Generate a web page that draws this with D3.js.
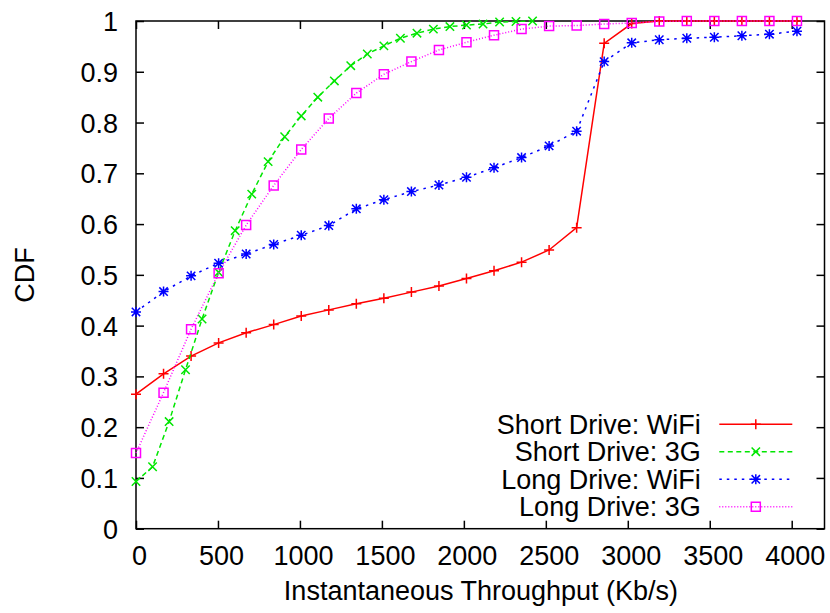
<!DOCTYPE html>
<html>
<head>
<meta charset="utf-8">
<script src="https://cdn.jsdelivr.net/npm/d3@7/dist/d3.min.js"></script>
<style>
  html, body { margin: 0; padding: 0; background: #fff; }
  svg { display: block; }
  text { font-family: "Liberation Sans", Arial, Helvetica, sans-serif; fill: #000; }
</style>
</head>
<body>
<svg id="chart" width="830" height="613"></svg>
<script>
// ---- data ----
const seriesNames = ["Short Drive: WiFi", "Short Drive: 3G", "Long Drive: WiFi", "Long Drive: 3G"];

const shortWifiX = [0,168,336,504,672,840,1008,1176,1344,1512,1680,1848,2016,2184,2352,2520,2688,2856,3024,3192,3360,3528,3696,3864,4032];
const shortWifiY = [0.265,0.305,0.340,0.366,0.386,0.402,0.419,0.431,0.443,0.454,0.466,0.478,0.493,0.508,0.525,0.549,0.593,0.956,0.995,1,1,1,1,1,1];

const short3GX = [0,101,202,302,403,504,605,706,806,907,1008,1109,1210,1310,1411,1512,1613,1714,1814,1915,2016,2117,2218,2318,2419];
const short3GY = [0.093,0.122,0.211,0.313,0.413,0.505,0.587,0.659,0.723,0.772,0.813,0.850,0.882,0.912,0.935,0.951,0.966,0.976,0.984,0.989,0.992,0.994,0.998,0.999,1.0];

const longWifiX = [0,168,336,504,672,840,1008,1176,1344,1512,1680,1848,2016,2184,2352,2520,2688,2856,3024,3192,3360,3528,3696,3864,4032];
const longWifiY = [0.427,0.467,0.498,0.523,0.541,0.560,0.578,0.597,0.630,0.648,0.664,0.677,0.692,0.711,0.731,0.754,0.783,0.920,0.957,0.963,0.966,0.968,0.971,0.974,0.980];

const long3GX = [0,168,336,504,672,840,1008,1176,1344,1512,1680,1848,2016,2184,2352,2520,2688,2856,3024,3192,3360,3528,3696,3864,4032];
const long3GY = [0.149,0.268,0.393,0.503,0.598,0.676,0.747,0.808,0.858,0.895,0.920,0.943,0.958,0.972,0.984,0.990,0.991,0.994,0.996,0.999,1,1,1,1,1];

const xTicks = [0,500,1000,1500,2000,2500,3000,3500,4000];
const yTicks = [0,0.1,0.2,0.3,0.4,0.5,0.6,0.7,0.8,0.9,1];
const yTickLabels = ["0","0.1","0.2","0.3","0.4","0.5","0.6","0.7","0.8","0.9","1"];
const xTitle = "Instantaneous Throughput (Kb/s)";
const yTitle = "CDF";

// ---- layout / style ----
const L = 136, R = 824.5, T = 21, B = 528.7;
const FS = 27;
const styles = [
  {color: "#ff0000", dash: null, marker: "plus"},
  {color: "#00e600", dash: "5,3.5", marker: "cross"},
  {color: "#0000ff", dash: "2.5,5", marker: "star"},
  {color: "#ff00ff", dash: "1,2", marker: "square"}
];
const series = [
  {x: shortWifiX, y: shortWifiY},
  {x: short3GX, y: short3GY},
  {x: longWifiX, y: longWifiY},
  {x: long3GX, y: long3GY}
];

const svg = d3.select("#chart");
const x = d3.scaleLinear().domain([0, 4200]).range([L, R]);
const y = d3.scaleLinear().domain([0, 1]).range([B, T]);

// axes (inward ticks, mirrored)
const gx = svg.append("g").attr("transform", `translate(0,${B})`)
  .call(d3.axisBottom(x).tickValues(xTicks).tickSize(-8).tickFormat(d3.format("d")));
gx.selectAll("text").attr("y", 36.3).attr("dy", 0).attr("dx", 3)
  .style("font-size", FS + "px").style("font-family", "'Liberation Sans', Arial, sans-serif");
const gy = svg.append("g").attr("transform", `translate(${L},0)`)
  .call(d3.axisLeft(y).tickValues(yTicks).tickSize(-8).tickFormat((d, i) => yTickLabels[i]));
gy.selectAll("text").attr("x", -18).attr("dy", 0).attr("y", 9.6)
  .style("font-size", FS + "px").style("font-family", "'Liberation Sans', Arial, sans-serif");
const gt = svg.append("g").attr("transform", `translate(0,${T})`)
  .call(d3.axisTop(x).tickValues(xTicks).tickSize(-8).tickFormat(""));
const gr = svg.append("g").attr("transform", `translate(${R},0)`)
  .call(d3.axisRight(y).tickValues(yTicks).tickSize(-8).tickFormat(""));
svg.selectAll(".domain").remove();
svg.selectAll(".tick line").attr("stroke", "#000").attr("stroke-width", 1.5);

// border
svg.append("rect").attr("x", L).attr("y", T).attr("width", R - L).attr("height", B - T)
  .attr("fill", "none").attr("stroke", "#000").attr("stroke-width", 1.5);

// titles
svg.append("text").attr("x", 481).attr("y", 600).attr("text-anchor", "middle")
  .style("font-size", FS + "px").text(xTitle);
svg.append("text").attr("transform", "translate(33.5,275) rotate(-90)").attr("text-anchor", "middle")
  .style("font-size", FS + "px").text(yTitle);

// marker drawing
function drawMarker(g, type, cx, cy, color) {
  const s = 5, c = 4.2;
  const p = d3.path();
  if (type === "plus" || type === "star") {
    p.moveTo(cx - s, cy); p.lineTo(cx + s, cy);
    p.moveTo(cx, cy - s); p.lineTo(cx, cy + s);
  }
  if (type === "cross" || type === "star") {
    p.moveTo(cx - c, cy - c); p.lineTo(cx + c, cy + c);
    p.moveTo(cx - c, cy + c); p.lineTo(cx + c, cy - c);
  }
  if (type === "square") {
    p.rect(cx - 4.5, cy - 4.5, 9, 9);
  }
  g.append("path").attr("d", p.toString()).attr("fill", "none")
    .attr("stroke", color).attr("stroke-width", 1.5);
}

const line = d3.line().x(d => x(d[0])).y(d => y(d[1]));
series.forEach((s, i) => {
  const st = styles[i];
  const pts = s.x.map((v, j) => [v, s.y[j]]);
  const g = svg.append("g");
  g.append("path").attr("d", line(pts)).attr("fill", "none")
    .attr("stroke", st.color).attr("stroke-width", 1.5)
    .attr("stroke-dasharray", st.dash);
  pts.forEach(p => drawMarker(g, st.marker, x(p[0]), y(p[1]), st.color));
});

// legend
const legRows = [424.3, 451.7, 479.3, 506.7];
seriesNames.forEach((name, i) => {
  const st = styles[i];
  const ly = legRows[i];
  svg.append("text").attr("x", 700.7).attr("y", ly + 9.6).attr("text-anchor", "end")
    .style("font-size", FS + "px").text(name);
  svg.append("line").attr("x1", 719.3).attr("x2", 792.3).attr("y1", ly).attr("y2", ly)
    .attr("stroke", st.color).attr("stroke-width", 1.5).attr("stroke-dasharray", st.dash);
  drawMarker(svg, st.marker, 755.8, ly, st.color);
});
</script>
</body>
</html>
